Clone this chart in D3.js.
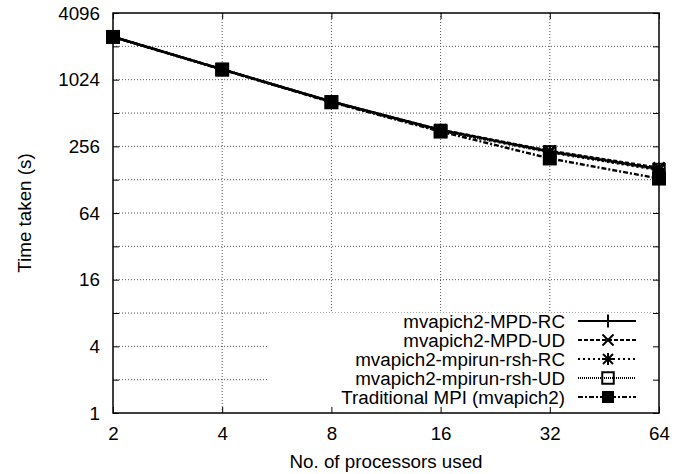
<!DOCTYPE html>
<html>
<head>
<meta charset="utf-8">
<script src="https://cdn.jsdelivr.net/npm/d3@7"></script>
<style>
  html, body { margin: 0; padding: 0; background: #fff; }
  svg { display: block; }
  text { font-family: "Liberation Sans", Arial, Helvetica, sans-serif; font-size: 18.8px; fill: #000; }
</style>
</head>
<body>
<svg id="chart" width="688" height="474"></svg>
<script>
// Processor counts (x axis, log base 2)
const processors = [2, 4, 8, 16, 32, 64];

// Run times in seconds for each launcher / transport
const mpdRC      = [2500, 1270, 650, 360, 230, 160];
const mpdUD      = [2500, 1272, 648, 362, 233, 164];
const rshRC      = [2495, 1265, 645, 355, 226, 156];
const rshUD      = [2495, 1266, 646, 356, 228, 158];
const traditional = [2490, 1262, 640, 348, 199, 131];

const seriesNames = [
  "mvapich2-MPD-RC",
  "mvapich2-MPD-UD",
  "mvapich2-mpirun-rsh-RC",
  "mvapich2-mpirun-rsh-UD",
  "Traditional MPI (mvapich2)"
];
const seriesValues = [mpdRC, mpdUD, rshRC, rshUD, traditional];

// Tick values
const xTicks = [2, 4, 8, 16, 32, 64];
const yMajorTicks = [1, 4, 16, 64, 256, 1024, 4096];
const yMinorTicks = [2, 8, 32, 128, 512, 2048];

// Drawing styles per series: dash pattern, marker kind
const styles = [
  { dash: null,        marker: "plus" },
  { dash: "4,2",       marker: "cross" },
  { dash: "2,3",       marker: "star" },
  { dash: "1,1",       marker: "openSquare" },
  { dash: "5,2,2,2",   marker: "filledSquare" }
];

const svg = d3.select("#chart");
const plotLeft = 113, plotRight = 659, plotTop = 13, plotBottom = 413;

const x = d3.scaleLog().base(2).domain([2, 64]).range([plotLeft, plotRight]);
const y = d3.scaleLog().base(2).domain([1, 4096]).range([plotBottom, plotTop]);

// Grid
const grid = svg.append("g").attr("stroke", "#555").attr("stroke-width", 1)
  .attr("stroke-dasharray", "1,2").attr("fill", "none");
xTicks.slice(1, -1).forEach(t => {
  grid.append("line").attr("x1", x(t)).attr("x2", x(t)).attr("y1", plotTop).attr("y2", plotBottom);
});
yMajorTicks.concat(yMinorTicks).filter(t => t > 1 && t < 4096).forEach(t => {
  grid.append("line").attr("x1", plotLeft).attr("x2", plotRight).attr("y1", y(t)).attr("y2", y(t));
});

// Legend backdrop hides the grid behind it
svg.append("rect").attr("x", 269).attr("y", y(8)).attr("width", plotRight - 269).attr("height", plotBottom - y(8))
  .attr("fill", "#fff");

// Axes with inward ticks
const yAllTicks = yMajorTicks.concat(yMinorTicks);
const fmt = d => yMajorTicks.includes(d) ? String(d) : "";

svg.append("g").attr("transform", `translate(${plotLeft},0)`)
  .call(d3.axisLeft(y).tickValues(yAllTicks).tickFormat(fmt).tickSizeInner(-6).tickSizeOuter(0).tickPadding(13))
  .call(g => g.select(".domain").remove())
  .call(g => g.attr("font-size", null).attr("font-family", null));

svg.append("g").attr("transform", `translate(${plotRight},0)`)
  .call(d3.axisRight(y).tickValues(yAllTicks).tickFormat("").tickSizeInner(-6).tickSizeOuter(0))
  .call(g => g.select(".domain").remove());

svg.append("g").attr("transform", `translate(0,${plotBottom})`)
  .call(d3.axisBottom(x).tickValues(xTicks).tickFormat(d => String(d)).tickSizeInner(-6).tickSizeOuter(0).tickPadding(14))
  .call(g => g.select(".domain").remove())
  .call(g => g.attr("font-size", null).attr("font-family", null));

svg.append("g").attr("transform", `translate(0,${plotTop})`)
  .call(d3.axisTop(x).tickValues(xTicks).tickFormat("").tickSizeInner(-6).tickSizeOuter(0))
  .call(g => g.select(".domain").remove());

svg.selectAll(".tick line").attr("stroke", "#000").attr("stroke-width", 1);

// Plot border
svg.append("rect").attr("x", plotLeft).attr("y", plotTop).attr("width", plotRight - plotLeft).attr("height", plotBottom - plotTop)
  .attr("fill", "none").attr("stroke", "#000").attr("stroke-width", 1.5);

// Axis titles
svg.append("text").attr("x", (plotLeft + plotRight) / 2).attr("y", 468).attr("text-anchor", "middle")
  .text("No. of processors used");
svg.append("text").attr("transform", `translate(31,${(plotTop + plotBottom) / 2}) rotate(-90)`)
  .attr("text-anchor", "middle").text("Time taken (s)");

// Marker drawing
function drawMarker(g, kind, cx, cy, big) {
  const s = 6;
  if (kind === "plus") {
    g.append("path").attr("d", `M${cx - s},${cy}H${cx + s}M${cx},${cy - s - 0.5}V${cy + s + 0.5}`)
      .attr("stroke", "#000").attr("stroke-width", 2).attr("fill", "none");
  } else if (kind === "cross") {
    const c = 5.5;
    g.append("path").attr("d", `M${cx - c},${cy - c}L${cx + c},${cy + c}M${cx - c},${cy + c}L${cx + c},${cy - c}`)
      .attr("stroke", "#000").attr("stroke-width", 2).attr("fill", "none");
  } else if (kind === "star") {
    const c = 5;
    g.append("path").attr("d", `M${cx - c},${cy - c}L${cx + c},${cy + c}M${cx - c},${cy + c}L${cx + c},${cy - c}M${cx - s},${cy}H${cx + s}M${cx},${cy - s}V${cy + s}`)
      .attr("stroke", "#000").attr("stroke-width", 2).attr("fill", "none");
  } else if (kind === "openSquare") {
    g.append("rect").attr("x", cx - 5.75).attr("y", cy - 5.75).attr("width", 11.5).attr("height", 11.5)
      .attr("fill", "none").attr("stroke", "#000").attr("stroke-width", 2);
  } else if (kind === "filledSquare") {
    const h = big ? 7 : 6;
    g.append("rect").attr("x", cx - h).attr("y", cy - h).attr("width", 2 * h).attr("height", 2 * h)
      .attr("fill", "#000");
  }
}

// Series lines
const line = d3.line().x((d, i) => x(processors[i])).y(d => y(d));
seriesValues.forEach((vals, i) => {
  svg.append("path").datum(vals).attr("d", line)
    .attr("fill", "none").attr("stroke", "#000").attr("stroke-width", 2.4)
    .attr("stroke-dasharray", styles[i].dash);
});
// Series markers
seriesValues.forEach((vals, i) => {
  const g = svg.append("g");
  vals.forEach((v, j) => drawMarker(g, styles[i].marker, x(processors[j]), y(v), true));
});

// Legend
const legendRows = [321, 340, 359, 378, 397];
seriesNames.forEach((name, i) => {
  const ry = legendRows[i];
  svg.append("text").attr("x", 565).attr("y", ry).attr("dy", "0.35em").attr("text-anchor", "end").text(name);
  svg.append("line").attr("x1", 578).attr("x2", 636).attr("y1", ry).attr("y2", ry)
    .attr("stroke", "#000").attr("stroke-width", 2).attr("stroke-dasharray", styles[i].dash);
  drawMarker(svg.append("g"), styles[i].marker, 608, ry, false);
});
</script>
</body>
</html>
